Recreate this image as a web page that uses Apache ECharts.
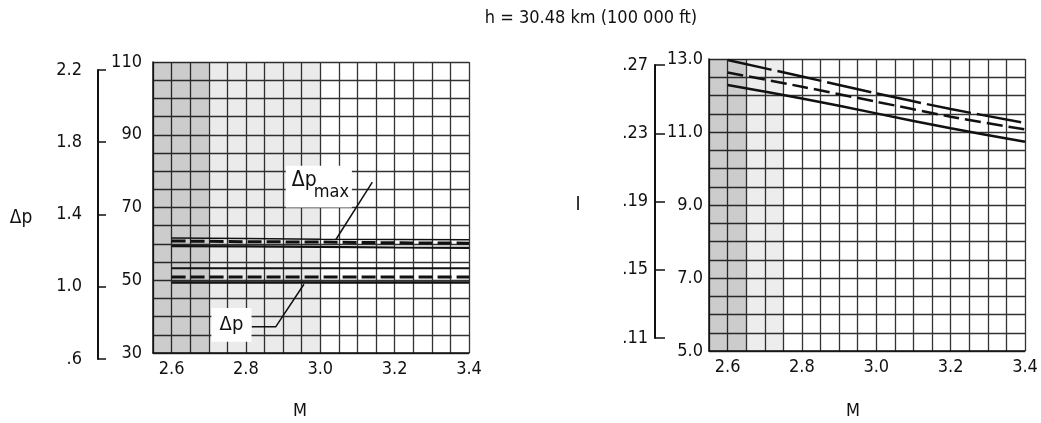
<!DOCTYPE html>
<html>
<head>
<meta charset="utf-8">
<script src="https://cdn.jsdelivr.net/npm/echarts@6/dist/echarts.min.js"></script>
<style>
html,body{margin:0;padding:0;background:#fff;}
#c{width:1041px;height:423px;}
</style>
</head>
<body>
<div id="c"></div>
<script>
// ---- data ----
const machNumbers = [2.6, 2.8, 3.0, 3.2, 3.4];
// left panel (inner scale 30..110)
const dpMaxUpper = [61.6, 61.5, 61.3, 61.2, 61.1];
const dpMaxMid   = [60.8, 60.6, 60.5, 60.3, 60.2];
const dpMaxLower = [59.4, 59.3, 59.2, 59.0, 58.9];
const dpUpper    = [53.3, 53.3, 53.3, 53.3, 53.3];
const dpMid      = [50.9, 50.9, 50.9, 50.9, 50.9];
const dpLower    = [49.4, 49.4, 49.4, 49.4, 49.4];
// right panel (inner scale 5..13)
const iTop = [12.97, 12.52, 12.06, 11.63, 11.25];
const iMid = [12.63, 12.24, 11.83, 11.42, 11.07];
const iBot = [12.29, 11.92, 11.51, 11.10, 10.73];
// tick labels
const xTickLabels = ['2.6', '2.8', '3.0', '3.2', '3.4'];
const dpInnerTicks = ['30', '50', '70', '90', '110'];
const dpOuterTicks = ['.6', '1.0', '1.4', '1.8', '2.2'];
const iInnerTicks = ['5.0', '7.0', '9.0', '11.0', '13.0'];
const iOuterTicks = ['.11', '.15', '.19', '.23', '.27'];

const FONT = '"Liberation Sans Narrow", "DejaVu Sans Condensed", sans-serif';
const INK = '#111';
const GRIDC = '#333';

function pairs(ys){ return machNumbers.map((x,i)=>[x, ys[i]]); }
function near(v, step, base){ const k=(v-base)/step; return Math.abs(k-Math.round(k))<1e-6; }
function xLabel(v){
  if(!near(v,0.2,2.6)) return '';
  const i = Math.round((v-2.6)/0.2);
  return xTickLabels[i] || '';
}

const chart = echarts.init(document.getElementById('c'), null, {renderer:'canvas'});

function mainX(gi){
  return {
    type:'value', gridIndex:gi, min:2.55, max:3.4, interval:0.05,
    axisLine:{show:true, lineStyle:{color:INK, width:1.5}},
    axisTick:{show:false},
    axisLabel:{formatter:xLabel, color:INK, fontFamily:FONT, fontSize:18, margin:7, showMinLabel:true, showMaxLabel:true},
    splitLine:{show:true, lineStyle:{color:GRIDC, width:1.3}}
  };
}
function hiddenX(gi){
  return {type:'value', gridIndex:gi, min:0, max:1, show:false};
}

const lineBase = {type:'line', showSymbol:false, symbol:'none', silent:true};

const option = {
  animation:false,
  backgroundColor:'#fff',
  grid:[
    {left:153, top:62, width:316, height:291},
    {left:98, top:70, width:1, height:289},
    {left:709, top:59, width:316, height:292},
    {left:655, top:65, width:1, height:273}
  ],
  xAxis:[mainX(0), hiddenX(1), mainX(2), hiddenX(3)],
  yAxis:[
    {type:'value', gridIndex:0, min:30, max:110, interval:5,
     axisLine:{show:true, lineStyle:{color:INK, width:1.5}}, axisTick:{show:false},
     axisLabel:{color:INK, fontFamily:FONT, fontSize:18, margin:11,
       formatter:v=> near(v,20,30) ? dpInnerTicks[Math.round((v-30)/20)] : ''},
     splitLine:{show:true, lineStyle:{color:GRIDC, width:1.3}}},
    {type:'value', gridIndex:1, min:0.6, max:2.2, interval:0.4,
     axisLine:{show:true, lineStyle:{color:INK, width:2}},
     axisTick:{show:true, inside:true, length:8, lineStyle:{color:INK, width:1.5}},
     axisLabel:{color:INK, fontFamily:FONT, fontSize:18, margin:16,
       formatter:v=> dpOuterTicks[Math.round((v-0.6)/0.4)]},
     splitLine:{show:false}},
    {type:'value', gridIndex:2, min:5, max:13, interval:0.5,
     axisLine:{show:true, lineStyle:{color:INK, width:1.5}}, axisTick:{show:false},
     axisLabel:{color:INK, fontFamily:FONT, fontSize:18, margin:6,
       formatter:v=> near(v,2,5) ? iInnerTicks[Math.round((v-5)/2)] : ''},
     splitLine:{show:true, lineStyle:{color:GRIDC, width:1.3}}},
    {type:'value', gridIndex:3, min:0.11, max:0.27, interval:0.04,
     axisLine:{show:true, lineStyle:{color:INK, width:2}},
     axisTick:{show:true, inside:true, length:10, lineStyle:{color:INK, width:1.5}},
     axisLabel:{color:INK, fontFamily:FONT, fontSize:18, margin:7,
       formatter:v=> iOuterTicks[Math.round((v-0.11)/0.04)]},
     splitLine:{show:false}}
  ],
  series:[
    // left panel
    Object.assign({}, lineBase, {xAxisIndex:0, yAxisIndex:0, data:pairs(dpMaxUpper), lineStyle:{color:INK, width:1.5}, z:3,
      markArea:{silent:true, itemStyle:{color:'rgba(0,0,0,0.2)'}, data:[[{xAxis:2.55, yAxis:30},{xAxis:2.7, yAxis:110}]]}}),
    Object.assign({}, lineBase, {xAxisIndex:0, yAxisIndex:0, data:pairs(dpMaxMid), lineStyle:{color:INK, width:3, type:[14,5]}, z:3,
      markArea:{silent:true, itemStyle:{color:'rgba(0,0,0,0.08)'}, data:[[{xAxis:2.7, yAxis:30},{xAxis:3.0, yAxis:110}]]}}),
    Object.assign({}, lineBase, {xAxisIndex:0, yAxisIndex:0, data:pairs(dpMaxLower), lineStyle:{color:INK, width:2.2}, z:3}),
    Object.assign({}, lineBase, {xAxisIndex:0, yAxisIndex:0, data:pairs(dpUpper), lineStyle:{color:INK, width:2}, z:3}),
    Object.assign({}, lineBase, {xAxisIndex:0, yAxisIndex:0, data:pairs(dpMid), lineStyle:{color:INK, width:3, type:[14,5]}, z:3}),
    Object.assign({}, lineBase, {xAxisIndex:0, yAxisIndex:0, data:pairs(dpLower), lineStyle:{color:INK, width:2.5}, z:3}),
    // leader lines (left panel annotations)
    Object.assign({}, lineBase, {xAxisIndex:0, yAxisIndex:0, data:[[3.14,77],[3.042,61.2]], lineStyle:{color:INK, width:1.5}, z:4}),
    Object.assign({}, lineBase, {xAxisIndex:0, yAxisIndex:0, data:[[2.815,37.2],[2.88,37.2],[2.956,48.9]], lineStyle:{color:INK, width:1.5}, z:4}),
    // right panel
    Object.assign({}, lineBase, {xAxisIndex:2, yAxisIndex:2, data:pairs(iTop), smooth:0.3, lineStyle:{color:INK, width:2.5, type:[45,6]}, z:3,
      markArea:{silent:true, itemStyle:{color:'rgba(0,0,0,0.2)'}, data:[[{xAxis:2.55, yAxis:5},{xAxis:2.65, yAxis:13}]]}}),
    Object.assign({}, lineBase, {xAxisIndex:2, yAxisIndex:2, data:pairs(iMid), smooth:0.3, lineStyle:{color:INK, width:2.5, type:[16,6]}, z:3,
      markArea:{silent:true, itemStyle:{color:'rgba(0,0,0,0.07)'}, data:[[{xAxis:2.65, yAxis:5},{xAxis:2.75, yAxis:13}]]}}),
    Object.assign({}, lineBase, {xAxisIndex:2, yAxisIndex:2, data:pairs(iBot), smooth:0.3, lineStyle:{color:INK, width:2.5}, z:3})
  ]
};
chart.setOption(option);

// annotations positioned from data coordinates
const p = (x,y)=>chart.convertToPixel({gridIndex:0}, [x,y]);
const bMax0 = p(2.907, 81.5), bMax1 = p(3.085, 70.0);
const bDp0 = p(2.707, 42.4), bDp1 = p(2.815, 33.1);
chart.setOption({
  graphic:[
    {type:'text', x:591, y:18, style:{text:'h = 30.48 km (100 000 ft)', font:'18px '+FONT, fill:INK, align:'center', verticalAlign:'middle'}},
    {type:'text', x:21, y:218, style:{text:'Δp', font:'19px '+FONT, fill:INK, align:'center', verticalAlign:'middle'}},
    {type:'text', x:578, y:205, style:{text:'I', font:'19px '+FONT, fill:INK, align:'center', verticalAlign:'middle'}},
    {type:'text', x:300, y:411, style:{text:'M', font:'18px '+FONT, fill:INK, align:'center', verticalAlign:'middle'}},
    {type:'text', x:853, y:411, style:{text:'M', font:'18px '+FONT, fill:INK, align:'center', verticalAlign:'middle'}},
    {type:'rect', z:100, shape:{x:bMax0[0], y:bMax0[1], width:bMax1[0]-bMax0[0], height:bMax1[1]-bMax0[1]}, style:{fill:'#fff'}},
    {type:'text', z:101, x:bMax0[0]+6, y:bMax0[1]+15, style:{text:'Δp', font:'21px '+FONT, fill:INK, align:'left', verticalAlign:'middle'}},
    {type:'text', z:101, x:bMax0[0]+28, y:bMax0[1]+27, style:{text:'max', font:'18px '+FONT, fill:INK, align:'left', verticalAlign:'middle'}},
    {type:'rect', z:100, shape:{x:bDp0[0], y:bDp0[1], width:bDp1[0]-bDp0[0], height:bDp1[1]-bDp0[1]}, style:{fill:'#fff'}},
    {type:'text', z:101, x:(bDp0[0]+bDp1[0])/2, y:(bDp0[1]+bDp1[1])/2, style:{text:'Δp', font:'20px '+FONT, fill:INK, align:'center', verticalAlign:'middle'}}
  ]
});
</script>
</body>
</html>
